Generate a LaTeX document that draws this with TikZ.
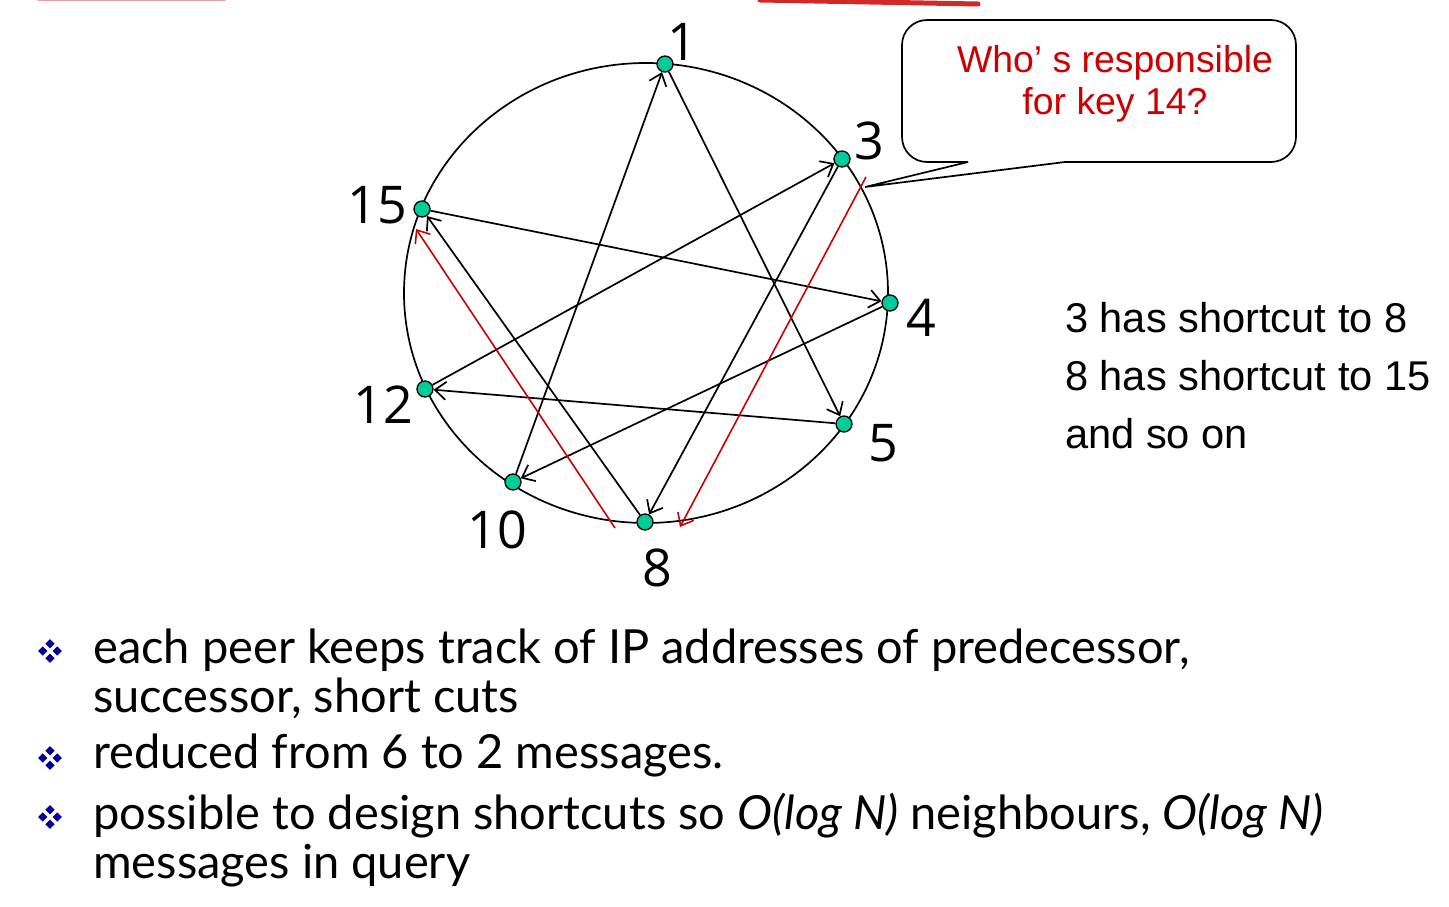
\documentclass[tikz,border=0pt]{standalone}
\usepackage{fontspec}
\setmainfont{Liberation Sans}
\newfontfamily\gillfont{Lato}
\newfontfamily\numfont{Open Sans}
\usetikzlibrary{arrows.meta}
\definecolor{dotgreen}{RGB}{0,204,153}
\definecolor{calloutred}{RGB}{204,0,0}
\definecolor{bulletblue}{RGB}{0,0,153}
\definecolor{headred}{RGB}{210,40,40}
\tikzset{
  ring/.style={line width=1.7pt, draw=black},
  dot/.style={circle, draw=black, line width=1.3pt, fill=dotgreen, inner sep=0pt, minimum size=16pt},
  link/.style={line width=1.7pt, draw=black, -{Straight Barb[length=11pt,width=18pt,line width=1.7pt]}},
  redlink/.style={line width=1.6pt, draw=calloutred, -{Straight Barb[length=11pt,width=18pt,line width=1.6pt]}},
  numlabel/.style={font=\numfont\fontsize{52}{52}\selectfont, inner sep=0pt},
  note/.style={font=\fontsize{41.6}{41.6}\selectfont, anchor=base west, inner sep=0pt},
  calltext/.style={text=calloutred, font=\fontsize{37.4}{37.4}\selectfont, anchor=base, inner sep=0pt},
  callline/.style={line width=1.7pt, draw=black},
  btext/.style={font=\gillfont\fontsize{47}{47}\selectfont, anchor=base west, inner sep=0pt},
  bulletsym/.pic={
    \foreach \dx/\dy in {0/-7.3, 7.3/0, 0/7.3, -7.3/0}
      \fill[bulletblue] (\dx,\dy-4.6) -- (\dx+4.6,\dy) -- (\dx,\dy+4.6) -- (\dx-4.6,\dy) -- cycle;
  }
}
\begin{document}
\begin{tikzpicture}[x=1pt,y=-1pt]
\useasboundingbox (0,0) rectangle (1449,907);
% header decoration
\draw[headred!45, line width=3pt, line cap=round] (38,0) -- (225,0);
\draw[headred, line width=5pt, line cap=round] (760,0) -- (978,4);

% ring
\draw[ring] (646,293) ellipse [x radius=242pt, y radius=230pt];

% peers
\node[dot] (n1)  at (665,64) {};
\node[dot] (n3)  at (842,159) {};
\node[dot] (n4)  at (890,303) {};
\node[dot] (n5)  at (844,424) {};
\node[dot] (n8)  at (645,522) {};
\node[dot] (n10) at (513,482) {};
\node[dot] (n12) at (425,389) {};
\node[dot] (n15) at (422,209) {};

% labels
\node[numlabel] (l1)  at (682,42)  {1};
\node[numlabel] (l3)  at (869,141) {3};
\node[numlabel] (l4)  at (921,318) {4};
\node[numlabel] (l5)  at (883,443) {5};
\node[numlabel] (l8)  at (657,568) {8};
\node[numlabel] (l10) at (497,530) {10};
\node[numlabel] (l12) at (383,405) {12};
\node[numlabel] (l15) at (377,205) {15};

% shortcuts
\draw[link] (n1) -- (n5);
\draw[link] (n10) -- (n1);
\draw[link] (n12) -- (n3);
\draw[link] (n3) -- (n8);
\draw[link] (n15) -- (n4);
\draw[link] (n4) -- (n10);
\draw[link] (n5) -- (n12);
\draw[link] (n8) -- (n15);

% query path
\coordinate (q3) at (866,177);
\coordinate (q8in) at (680,527);
\coordinate (q8out) at (615,528);
\coordinate (q15) at (416,229);
\draw[redlink] (q3) -- (q8in);
\draw[redlink] (q8out) -- (q15);

% callout
\coordinate (ctip) at (865,187);
\draw[callline, line join=miter] (968,162) -- (ctip) -- (1065,162);
\draw[callline, rounded corners=25pt] (1065,162) -- (1296,162) -- (1296,20) -- (902,20) -- (902,162) -- (968,162);
\node[calltext] (c1) at (1115,73) {Who’ s responsible};
\node[calltext] (c2) at (1115,114) {for key 14?};

% note
\node[note] (t1) at (1065,332) {3 has shortcut to 8};
\node[note] (t2) at (1065,390) {8 has shortcut to 15};
\node[note] (t3) at (1065,448) {and so on};

% bullets
\pic at (50,651) {bulletsym};
\pic at (50,758) {bulletsym};
\pic at (50,817) {bulletsym};
\node[btext] (b1a) at (93,663) {each peer keeps track of IP addresses of predecessor,};
\node[btext] (b1b) at (93,712) {successor, short cuts};
\node[btext] (b2)  at (93,768) {reduced from 6 to 2 messages.};
\node[btext] (b3a) at (93,829) {possible to design shortcuts so \textit{O(log N)} neighbours, \textit{O(log N)}};
\node[btext] (b3b) at (93,878) {messages in query};
\end{tikzpicture}
\end{document}
